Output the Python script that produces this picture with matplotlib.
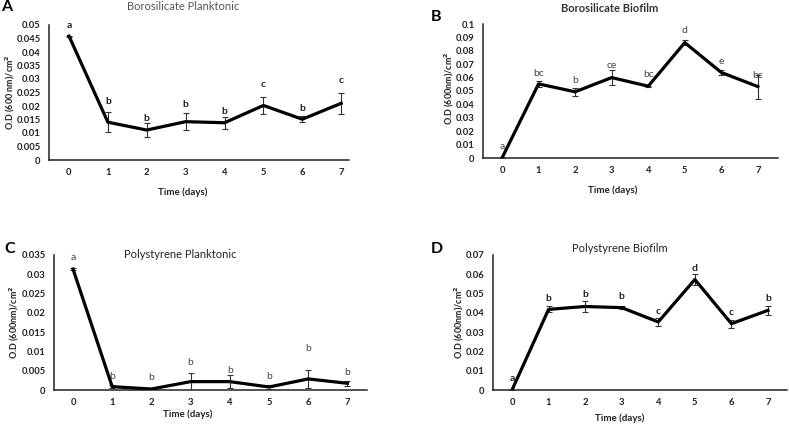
import numpy as np
import matplotlib.pyplot as plt
from matplotlib.ticker import MultipleLocator, FuncFormatter

plt.rcParams['font.family'] = ['Lato', 'DejaVu Sans']

days = [0, 1, 2, 3, 4, 5, 6, 7]

boro_plank = [0.0459, 0.0140, 0.0111, 0.0142, 0.0138, 0.0202, 0.0151, 0.0210]
boro_plank_err = [0.0002, 0.0037, 0.0027, 0.0032, 0.0023, 0.0032, 0.0011, 0.0038]
boro_plank_lab = ['a', 'b', 'b', 'b', 'b', 'c', 'b', 'c']
boro_plank_laby = [0.0500, 0.0216, 0.0152, 0.0206, 0.0179, 0.0278, 0.0191, 0.0293]

boro_bio = [0.0, 0.0553, 0.0494, 0.0600, 0.0536, 0.0861, 0.0638, 0.0533]
boro_bio_err = [0.0, 0.0020, 0.0030, 0.0053, 0.0005, 0.0018, 0.0022, 0.0089]
boro_bio_lab = ['a', 'bc', 'b', 'ce', 'bc', 'd', 'e', 'bc']
boro_bio_laby = [0.0087, 0.0633, 0.0576, 0.0687, 0.0620, 0.0948, 0.0717, 0.0613]

poly_plank = [0.03135, 0.00087, 0.00026, 0.00217, 0.00217, 0.00078, 0.00287, 0.00174]
poly_plank_err = [0.0002, 0.0003, 0.0001, 0.0023, 0.0016, 0.0005, 0.0023, 0.0007]
poly_plank_lab = ['a', 'b', 'b', 'b', 'b', 'b', 'b', 'b']
poly_plank_laby = [0.0343, 0.00347, 0.00313, 0.00703, 0.0050, 0.00347, 0.01085, 0.00443]

poly_bio = [0.0, 0.0418, 0.0433, 0.0427, 0.0353, 0.0573, 0.0344, 0.0413]
poly_bio_err = [0.0, 0.0015, 0.0030, 0.0008, 0.0021, 0.0029, 0.0020, 0.0023]
poly_bio_lab = ['a', 'b', 'b', 'b', 'c', 'd', 'c', 'b']
poly_bio_laby = [0.0060, 0.0473, 0.0493, 0.0487, 0.0408, 0.0628, 0.0404, 0.0473]

W, H = 789, 424
fig = plt.figure(figsize=(W / 100, H / 100), dpi=100)


def px_axes(l, t, r, b):
    return fig.add_axes([l / W, 1 - b / H, (r - l) / W, (b - t) / H])


def gfmt(v, pos):
    return '0' if abs(v) < 1e-12 else ('%g' % round(v, 4))


def panel(box, xlim, ytop, ystep, y, err, labs, laby, lab_bold, lab_col):
    ax = px_axes(*box)
    ax.errorbar(days, y, yerr=err, color='black', lw=2.3, ecolor='#333333',
                elinewidth=0.8, capsize=2.5, capthick=0.8, zorder=3)
    for x, ly, s in zip(days, laby, labs):
        ax.text(x, ly, s, ha='center', va='center', fontsize=7.5,
                fontweight='bold' if lab_bold else 'normal', color=lab_col)
    ax.set_xlim(*xlim)
    ax.set_ylim(0, ytop)
    ax.yaxis.set_major_locator(MultipleLocator(ystep))
    ax.yaxis.set_major_formatter(FuncFormatter(gfmt))
    ax.set_xticks(days)
    ax.tick_params(length=0, labelsize=6.8, pad=6)
    for lbl in ax.get_xticklabels() + ax.get_yticklabels():
        lbl.set_fontweight('bold')
        lbl.set_color('#222222')
    for s in ['top', 'right']:
        ax.spines[s].set_visible(False)
    for s in ['left', 'bottom']:
        ax.spines[s].set_linewidth(1.1)
        ax.spines[s].set_color('#222222')
    return ax


axA = panel((49, 25, 349, 160), (-0.514, 7.2), 0.05, 0.005,
            boro_plank, boro_plank_err, boro_plank_lab, boro_plank_laby, True, '#222222')
axB = panel((483, 24, 778, 158), (-0.52, 7.55), 0.1, 0.01,
            boro_bio, boro_bio_err, boro_bio_lab, boro_bio_laby, False, '#444444')
axC = panel((54, 255, 367, 390), (-0.485, 7.5), 0.035, 0.005,
            poly_plank, poly_plank_err, poly_plank_lab, poly_plank_laby, False, '#444444')
axD = panel((493, 255, 787, 390), (-0.52, 7.52), 0.07, 0.01,
            poly_bio, poly_bio_err, poly_bio_lab, poly_bio_laby, True, '#222222')


def ftext(x, y, s, **kw):
    fig.text(x / W, 1 - y / H, s, ha='center', va='center', **kw)


ftext(183, 7, 'Borosilicate Planktonic', fontsize=8, color='#555555')
ftext(610, 8, 'Borosilicate Biofilm', fontsize=8, fontweight='bold', color='#333333')
ftext(180, 255, 'Polystyrene Planktonic', fontsize=8, color='#222222')
ftext(620, 249, 'Polystyrene Biofilm', fontsize=8, color='#222222')

for x, y, s in [(7, 7, 'A'), (436, 17, 'B'), (10, 249, 'C'), (437, 249, 'D')]:
    ftext(x, y, s, fontsize=11.5, fontweight='bold')

for x, y in [(183, 192), (613, 190), (188, 414), (620, 418)]:
    ftext(x, y, 'Time (days)', fontsize=7, fontweight='bold', color='#222222')

ylabels = ['O.D (600 nm)/cm$^\\mathbf{2}$', 'O.D (600nm)/cm$^\\mathbf{2}$',
           'O.D (600nm)/cm$^\\mathbf{2}$', 'O.D (600nm)/cm$^\\mathbf{2}$']
for (x, y), s in zip([(10, 92), (449, 88), (14, 322), (459, 322)], ylabels):
    ftext(x, y, s, fontsize=6.5, fontweight='bold', rotation=90, color='#222222')

fig.savefig('out.png', dpi=100)
